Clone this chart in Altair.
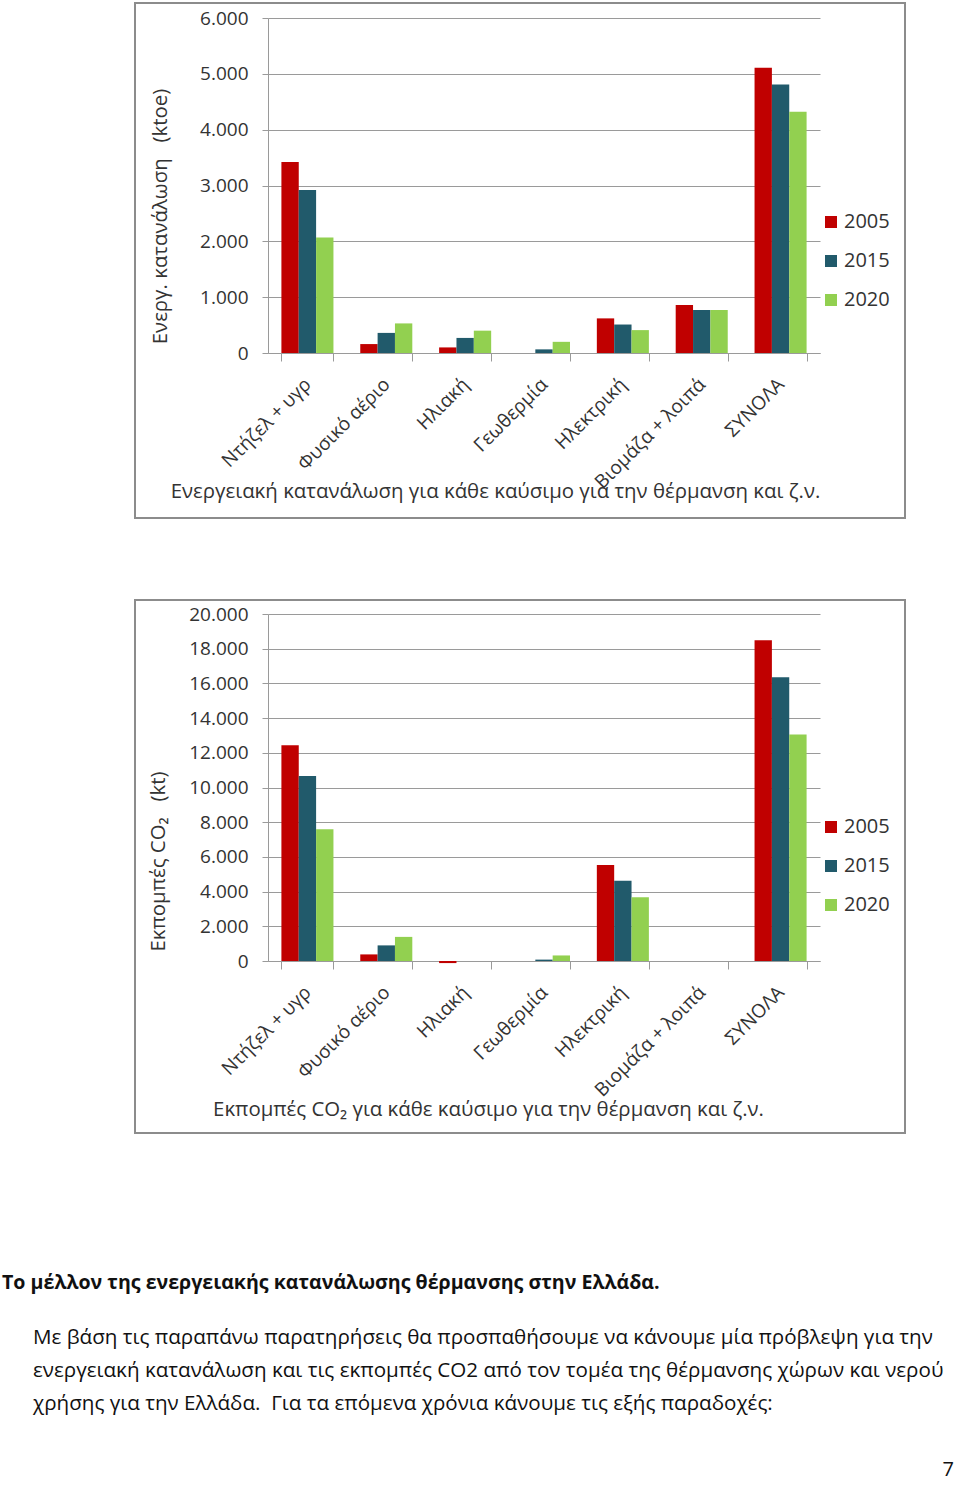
import altair as alt
import pandas as pd

categories = ["Ντήζελ + υγρ", "Φυσικό αέριο", "Ηλιακή", "Γεωθερμία",
              "Ηλεκτρική", "Βιομάζα + λοιπά", "ΣΥΝΟΛΑ"]
years = ["2005", "2015", "2020"]
colors = ["#C00000", "#215A6B", "#92D050"]

# Energy consumption (ktoe)
energy_2005 = [3420, 160, 100, 0, 620, 860, 5110]
energy_2015 = [2920, 360, 270, 65, 510, 770, 4810]
energy_2020 = [2070, 530, 400, 200, 410, 770, 4320]

# CO2 emissions (kt)
co2_2005 = [12440, 380, -120, 0, 5530, 0, 18490]
co2_2015 = [10670, 900, 0, 80, 4620, 0, 16360]
co2_2020 = [7600, 1390, 0, 320, 3680, 0, 13050]

heading = "Το μέλλον της ενεργειακής κατανάλωσης θέρμανσης στην Ελλάδα."
paragraph = [
    "Με βάση τις παραπάνω παρατηρήσεις θα προσπαθήσουμε να κάνουμε μία πρόβλεψη για την",
    "ενεργειακή κατανάλωση και τις εκπομπές CO2 από τον τομέα της θέρμανσης χώρων και νερού",
    "χρήσης για την Ελλάδα.\u00a0 Για τα επόμενα χρόνια κάνουμε τις εξής παραδοχές:",
]
page_number = "7"

FONT = "Open Sans"
GRAY = "#9a9a9a"
TXT = "#333333"


def long_df(series):
    rows = []
    for y, vals in zip(years, series):
        for c, v in zip(categories, vals):
            rows.append({"cat": c, "year": y, "value": v})
    return pd.DataFrame(rows)


def panel(df, ymax, ystep, height, ytitle, xtitle, yt_x, yt_y, xt_x, xt_y,
          legend_y, frame):
    bars = alt.Chart(df).mark_bar().encode(
        x=alt.X("cat:N", sort=categories,
                scale=alt.Scale(paddingInner=0.34, paddingOuter=0.17),
                axis=alt.Axis(title=xtitle, labelAngle=-45, labelAlign="right",
                              labelBaseline="middle", labelFontSize=19,
                              labelFont=FONT, labelColor=TXT, labelPadding=20,
                              tickBand="extent", ticks=True, tickSize=8,
                              tickColor=GRAY, domainColor=GRAY, grid=False,
                              titleX=xt_x, titleY=xt_y, titleFontSize=20.4,
                              titleFont=FONT, titleFontWeight="normal",
                              titleColor=TXT, titleAlign="center",
                              titleBaseline="middle")),
        xOffset=alt.XOffset("year:N", sort=years, scale=alt.Scale(paddingInner=0)),
        y=alt.Y("value:Q",
                scale=alt.Scale(domain=[0, ymax], nice=False, zero=True),
                axis=alt.Axis(values=list(range(0, ymax + 1, ystep)),
                              labelExpr="replace(format(datum.value, ','), ',', '.')",
                              title=ytitle, grid=True, gridColor=GRAY,
                              domainColor=GRAY, tickColor=GRAY, tickSize=6,
                              labelPadding=14, labelFontSize=19, labelFont=FONT,
                              labelColor=TXT, titleX=yt_x, titleY=yt_y,
                              titleFontSize=20.4, titleFont=FONT,
                              titleFontWeight="normal", titleColor=TXT,
                              titleAngle=-90, titleAlign="center",
                              titleBaseline="middle")),
        color=alt.Color("year:N", sort=years,
                        scale=alt.Scale(domain=years, range=colors),
                        legend=alt.Legend(title=None, orient="none",
                                          legendX=553, legendY=legend_y,
                                          symbolType="square", symbolSize=144,
                                          symbolStrokeWidth=0, labelFontSize=20,
                                          labelFont=FONT, labelColor=TXT,
                                          rowPadding=19, labelOffset=3)),
    )
    fr = alt.Chart(pd.DataFrame({"a": [0]})).mark_rect(
        fill="transparent", stroke="#8c8c8c", strokeWidth=2
    ).encode(x=alt.value(frame[0]), x2=alt.value(frame[1]),
             y=alt.value(frame[2]), y2=alt.value(frame[3]))
    return fr, bars


NB = "\u00a0"
fr1, bars1 = panel(long_df([energy_2005, energy_2015, energy_2020]), 6000, 1000, 335,
                   "Ενεργ. κατανάλωση" + NB * 3 + "(ktoe)",
                   "Ενεργειακή κατανάλωση για κάθε καύσιμο για την θέρμανση και ζ.ν.",
                   -108, 198, 227, 138, 194, (-133, 637, -15, 500))
fr2, bars2 = panel(long_df([co2_2005, co2_2015, co2_2020]), 20000, 2000, 347,
                   "Εκπομπές CO₂" + NB * 3 + "(kt)",
                   "Εκπομπές CO₂ για κάθε καύσιμο για την θέρμανση και ζ.ν.",
                   -110, 247, 220, 148, 203, (-133, 637, -14, 519))

one = pd.DataFrame({"a": [0]})
texts = [
    alt.Chart(one).mark_text(align="left", baseline="middle", fontSize=19.6,
                             fontWeight="bold", font=FONT, color="#111111")
    .encode(x=alt.value(-266), y=alt.value(669), text=alt.value(heading))
]
for i, line in enumerate(paragraph):
    texts.append(
        alt.Chart(one).mark_text(align="left", baseline="middle", fontSize=20.6,
                                 font=FONT, color="#111111")
        .encode(x=alt.value(-235), y=alt.value(724 + 33 * i), text=alt.value(line))
    )
texts.append(
    alt.Chart(one).mark_text(align="right", baseline="middle", fontSize=20,
                             font=FONT, color="#111111")
    .encode(x=alt.value(686), y=alt.value(856), text=alt.value(page_number))
)

c1 = alt.layer(fr1, bars1).properties(width=552, height=335)
c2 = alt.layer(fr2, bars2, *texts).properties(width=552, height=347)

chart = (
    alt.vconcat(c1, c2, spacing=80)
    .resolve_scale(color="independent", x="independent", y="independent")
    .resolve_legend(color="independent")
    .properties(padding={"left": 2, "top": 2, "right": 4, "bottom": 4},
                background="white")
    .configure_view(strokeWidth=0)
)

chart.save("out.html", embed_options={"renderer": "svg", "actions": False})
